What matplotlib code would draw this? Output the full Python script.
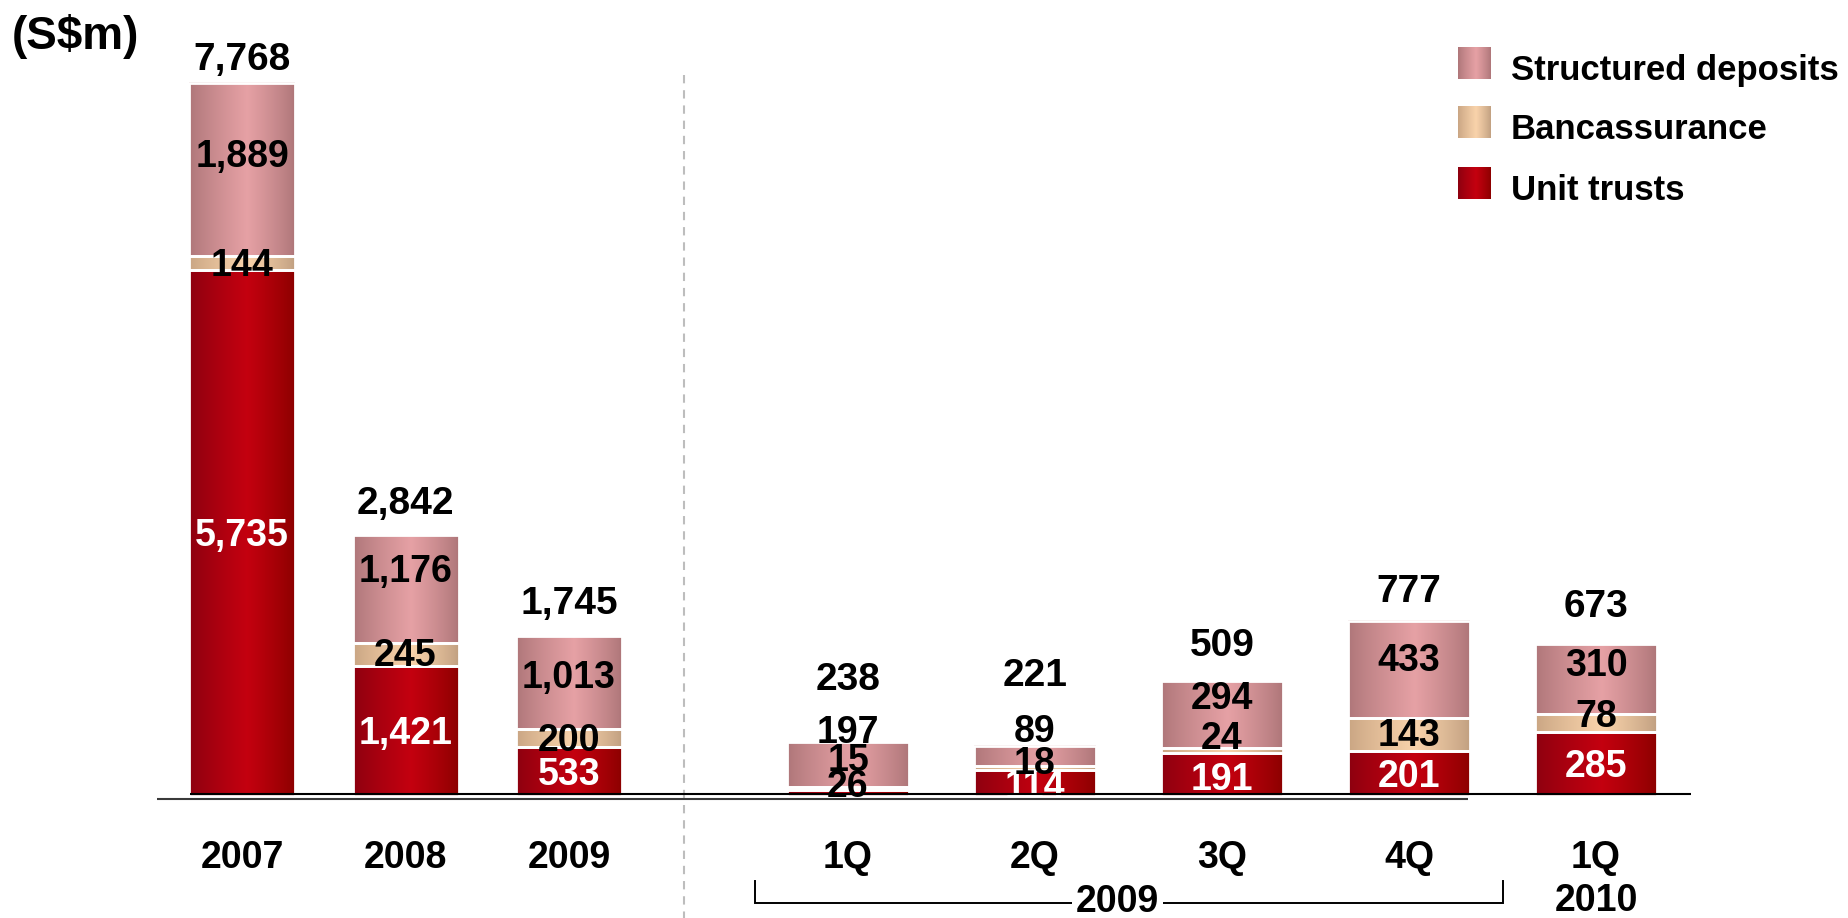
import numpy as np
import matplotlib
matplotlib.use("Agg")
import matplotlib.pyplot as plt
from matplotlib import transforms
from matplotlib.colors import to_rgb

plt.rcParams['font.family'] = ['Liberation Sans', 'DejaVu Sans']
plt.rcParams['font.weight'] = 'bold'

# ---- data (S$m) ----
years = ['2007', '2008', '2009']
annual_unit_trusts = [5735, 1421, 533]
annual_bancassurance = [144, 245, 200]
annual_structured = [1889, 1176, 1013]
annual_totals = [7768, 2842, 1745]

quarters = ['1Q', '2Q', '3Q', '4Q', '1Q']
quarter_years = ['', '', '', '', '2010']
q_unit_trusts = [26, 114, 191, 201, 285]
q_bancassurance = [15, 18, 24, 143, 78]
q_structured = [197, 89, 294, 433, 310]
q_totals = [238, 221, 509, 777, 673]

series_names = ['Structured deposits', 'Bancassurance', 'Unit trusts']

# ---- styling ----
PAL_SD = ('#AE7679', '#E6A1A5', '#AE7679')
PAL_BA = ('#C9A583', '#F9D3AB', '#C1A081')
PAL_UT = ('#8C0010', '#C4000F', '#8C0000')
FS_TOTAL = 28
FS_INNER = 27
FS_TICK = 27
FS_LEGEND = 25
FS_UNIT = 33

W, H = 1849, 918
BASE = 796  # pixel row of the baseline


def gradient(pal, n=96, peak=0.55):
    t = np.linspace(0, 1, n)
    f = np.where(t < peak, t / peak, (1 - t) / (1 - peak))
    f = np.clip(f, 0, 1) ** 0.85
    l, m, r = (np.array(to_rgb(c)) for c in pal)
    cols = np.where((t < peak)[:, None], l + (m - l) * f[:, None], r + (m - r) * f[:, None])
    return cols[None, :, :]


fig = plt.figure(figsize=(W / 100, H / 100), dpi=100)
rect = [0, (H - BASE) / H, 1, BASE / H]

# annual panel and quarterly panel share the frame but use different scales
ax1 = fig.add_axes(rect)
ax2 = fig.add_axes(rect)
for ax in (ax1, ax2):
    ax.axis('off')
    ax.patch.set_visible(False)

a_step, a_c0, a_w = 163.5, 242, 106
q_step, q_c0, q_w = 187.0, 848, 122
a_scale = 0.0918   # px per S$m, annual
q_scale = 0.2253   # px per S$m, quarterly


def draw_stack(ax, xs, layers, width):
    bottoms = np.zeros(len(xs), dtype=float)
    segs = []
    for values, pal in layers:
        values = np.asarray(values, dtype=float)
        img = gradient(pal)
        for x, b, v in zip(xs, bottoms, values):
            ax.imshow(img, extent=[x - width / 2, x + width / 2, b, b + v],
                      aspect='auto', interpolation='bilinear', zorder=2)
        ax.bar(xs, values, width, bottom=bottoms, facecolor='none',
               edgecolor='white', linewidth=2.0, zorder=3)
        segs.append((bottoms.copy(), values))
        bottoms = bottoms + values
    return segs, bottoms


def put_labels(ax, xs, segs, colors, nudges):
    for (b, v), col, nud in zip(segs, colors, nudges):
        for i, x in enumerate(xs):
            tr = transforms.offset_copy(ax.transData, fig=fig, x=0, y=nud[i], units='dots')
            c = col[i] if isinstance(col, list) else col
            ax.text(x, b[i] + v[i] / 2, f'{int(v[i]):,}', transform=tr, ha='center',
                    va='center_baseline', fontsize=FS_INNER, fontweight='bold', color=c, zorder=5)


def put_totals(ax, xs, tops, totals, gaps):
    for x, t, tot, g in zip(xs, tops, totals, gaps):
        tr = transforms.offset_copy(ax.transData, fig=fig, x=0, y=g, units='dots')
        ax.text(x, t, f'{tot:,}', transform=tr, ha='center', va='center_baseline',
                fontsize=FS_TOTAL, fontweight='bold', color='black', zorder=5)


# annual bars
xa = np.arange(len(years))
segs_a, tops_a = draw_stack(ax1, xa, [(annual_unit_trusts, PAL_UT),
                                      (annual_bancassurance, PAL_BA),
                                      (annual_structured, PAL_SD)], a_w / a_step)
put_labels(ax1, xa, segs_a, ['white', 'black', 'black'],
           [[1, 1, 1], [1, 2, 1], [17, 21, 8]])
put_totals(ax1, xa, tops_a, annual_totals, [27, 35, 36])

# quarterly bars
xq = np.arange(len(quarters))
segs_q, tops_q = draw_stack(ax2, xq, [(q_unit_trusts, PAL_UT),
                                      (q_bancassurance, PAL_BA),
                                      (q_structured, PAL_SD)], q_w / q_step)
put_labels(ax2, xq, segs_q,
           [['black', 'white', 'white', 'white', 'white'], 'black', 'black'],
           [[10, 0, -2, 0, 1], [31, 8, 15, 3, 10], [36, 28, 19, 13, 17]])
put_totals(ax2, xq, tops_q, q_totals, [66, 74, 39, 33, 41])

ax1.set_xlim(-a_c0 / a_step, (W - a_c0) / a_step)
ax1.set_ylim(0, BASE / a_scale)
ax2.set_xlim(-q_c0 / q_step, (W - q_c0) / q_step)
ax2.set_ylim(0, BASE / q_scale)


def fy(px):
    return 1 - px / H


# category labels
ta = transforms.blended_transform_factory(ax1.transData, fig.transFigure)
tq = transforms.blended_transform_factory(ax2.transData, fig.transFigure)
for x, lab in zip(xa, years):
    fig.text(x, fy(868), lab, transform=ta, ha='center', va='baseline',
             fontsize=FS_TICK, fontweight='bold')
for x, lab, yr in zip(xq, quarters, quarter_years):
    fig.text(x, fy(868), lab, transform=tq, ha='center', va='baseline',
             fontsize=FS_TICK, fontweight='bold')
    if yr:
        fig.text(x, fy(911), yr, transform=tq, ha='center', va='baseline',
                 fontsize=FS_TICK, fontweight='bold')

# overlay in pixel coordinates for the frame decorations
ov = fig.add_axes([0, 0, 1, 1])
ov.set_xlim(0, W)
ov.set_ylim(H, 0)
ov.axis('off')
ov.patch.set_visible(False)

# baseline (double rule)
ov.plot([190, 1691], [794, 794], color='black', lw=1.5, solid_capstyle='butt', zorder=6)
ov.plot([157, 1468], [799, 799], color='#3a3a3a', lw=1.5, solid_capstyle='butt', zorder=6)

# dashed separator between annual and quarterly panels
ov.plot([684, 684], [75, H], color='#BDBDBD', lw=1.5, dashes=(4, 3.3), zorder=1)

# bracket grouping the 2009 quarters
bx0 = ov.transData.inverted().transform(ax2.transData.transform((-0.5, 0)))[0]
bx1 = ov.transData.inverted().transform(ax2.transData.transform((3.5, 0)))[0]
ov.plot([bx0, bx0, bx1, bx1], [881, 903, 903, 881], color='black', lw=1.4,
        solid_joinstyle='miter', zorder=6)
fig.text(1.44, fy(912), '2009', transform=tq, ha='center', va='baseline',
         fontsize=FS_TICK, fontweight='bold', zorder=7,
         bbox=dict(facecolor='white', edgecolor='none', pad=3))

# unit label
ov.text(12, 49, '(S$m)', ha='left', va='baseline', fontsize=FS_UNIT, fontweight='bold')

# legend
leg_rows = [(47, PAL_SD), (106, PAL_BA), (167, PAL_UT)]
for (top, pal), name in zip(leg_rows, series_names):
    ov.imshow(gradient(pal), extent=[1458, 1491, top + 32, top], aspect='auto',
              interpolation='bilinear', zorder=3)
    ov.text(1511, top + 33, name, ha='left', va='baseline', fontsize=FS_LEGEND,
            fontweight='bold')
ov.set_xlim(0, W)
ov.set_ylim(H, 0)

fig.savefig('out.png', dpi=100, facecolor='white')
